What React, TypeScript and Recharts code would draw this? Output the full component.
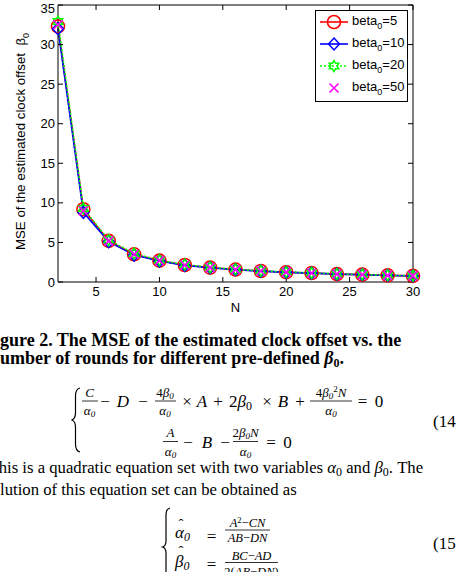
import React from 'react';
import { LineChart, Line, XAxis, YAxis, Legend } from 'recharts';

// values (MSE of beta_0 estimate vs. number of rounds N)
const N_ROUNDS = [2, 4, 6, 8, 10, 12, 14, 16, 18, 20, 22, 24, 26, 28, 30];
const MSE_BETA5 = [32.3, 9.2, 5.2, 3.5, 2.7, 2.15, 1.82, 1.57, 1.39, 1.24, 1.13, 1.0, 0.93, 0.84, 0.78];
const MSE_BETA10 = [32.0, 8.8, 5.1, 3.4, 2.65, 2.1, 1.8, 1.55, 1.37, 1.22, 1.12, 0.99, 0.92, 0.83, 0.77];
const MSE_BETA20 = [32.9, 9.3, 5.3, 3.6, 2.75, 2.2, 1.85, 1.6, 1.42, 1.26, 1.15, 1.02, 0.95, 0.86, 0.79];
const MSE_BETA50 = [32.5, 9.0, 5.2, 3.5, 2.7, 2.15, 1.82, 1.57, 1.39, 1.24, 1.13, 1.0, 0.93, 0.84, 0.78];

const X_TICKS = [5, 10, 15, 20, 25, 30];
const Y_TICKS = [0, 5, 10, 15, 20, 25, 30, 35];

const SERIES = [
  { key: 'b5', label: '5', color: '#ff0000', marker: 'circle', dash: undefined as string | undefined, line: true },
  { key: 'b10', label: '10', color: '#0000ff', marker: 'diamond', dash: undefined, line: true },
  { key: 'b20', label: '20', color: '#00ff00', marker: 'hexagram', dash: '2 2', line: true },
  { key: 'b50', label: '50', color: '#ff00ff', marker: 'x', dash: undefined, line: false },
];

const data = N_ROUNDS.map((n, i) => ({
  n,
  b5: MSE_BETA5[i],
  b10: MSE_BETA10[i],
  b20: MSE_BETA20[i],
  b50: MSE_BETA50[i],
}));

const SANS = '"Liberation Sans", Arial, Helvetica, sans-serif';
const SERIF = '"Liberation Serif", "Times New Roman", Times, serif';

function starPoints(cx: number, cy: number, r: number) {
  const pts: string[] = [];
  for (let k = 0; k < 12; k++) {
    const rr = k % 2 === 0 ? r : r / Math.sqrt(3);
    const a = (-90 + k * 30) * Math.PI / 180;
    pts.push(`${cx + rr * Math.cos(a)},${cy + rr * Math.sin(a)}`);
  }
  return pts.join(' ');
}

function Marker({ kind, cx, cy, color }: { kind: string; cx: number; cy: number; color: string }) {
  if (cx == null || cy == null) return null;
  switch (kind) {
    case 'circle':
      return <circle cx={cx} cy={cy} r={6.5} fill="none" stroke={color} strokeWidth={1.6} />;
    case 'diamond':
      return (
        <polygon
          points={`${cx},${cy - 6} ${cx + 5.5},${cy} ${cx},${cy + 6} ${cx - 5.5},${cy}`}
          fill="none" stroke={color} strokeWidth={1.5}
        />
      );
    case 'hexagram':
      return <polygon points={starPoints(cx, cy, 5.5)} fill="none" stroke={color} strokeWidth={1.5} />;
    default:
      return (
        <path
          d={`M${cx - 4.5},${cy - 4.5}L${cx + 4.5},${cy + 4.5}M${cx - 4.5},${cy + 4.5}L${cx + 4.5},${cy - 4.5}`}
          stroke={color} strokeWidth={1.6} fill="none"
        />
      );
  }
}

function LegendBox() {
  return (
    <div style={{
      position: 'relative', width: 93, height: 92, boxSizing: 'border-box',
      border: '1.5px solid #000', background: '#fff', fontFamily: SANS, fontSize: 13,
    }}>
      {SERIES.map((s, i) => (
        <div key={s.key} style={{ position: 'absolute', left: 3, top: 1 + i * 21.9, height: 20, display: 'flex', alignItems: 'center' }}>
          <svg width={30} height={20} style={{ display: 'block' }}>
            {s.line && <line x1={1} y1={10} x2={29} y2={10} stroke={s.color} strokeWidth={1.6} strokeDasharray={s.dash} />}
            <Marker kind={s.marker} cx={15} cy={10} color={s.color} />
          </svg>
          <span style={{ marginLeft: 3, color: '#000', whiteSpace: 'nowrap' }}>
            beta<sub style={{ fontSize: 9, verticalAlign: -4 }}>0</sub>={s.label}
          </span>
        </div>
      ))}
    </div>
  );
}

const YLabel = (props: any) => {
  const vb = props.viewBox || {};
  const cy = (vb.y ?? 5) + (vb.height ?? 277) / 2 - 2;
  return (
    <text
      transform={`translate(25,${cy}) rotate(-90)`}
      textAnchor="middle" fontSize={13.3} fontFamily={SANS} fill="#000"
    >
      MSE of the estimated clock offset{'\u00a0\u00a0'}β<tspan fontSize={9} dy={4}>0</tspan>
    </text>
  );
};

const XLabel = (props: any) => {
  const vb = props.viewBox || {};
  return (
    <text x={(vb.x ?? 58) + (vb.width ?? 355) / 2} y={(vb.y ?? 282) + 29.5}
      textAnchor="middle" fontSize={13} fontFamily={SANS} fill="#000">
      N
    </text>
  );
};

const tickStyle = { fontSize: 13, fontFamily: SANS, fill: '#000' };
const axisLine = { stroke: '#000', strokeWidth: 1 };
const noLabel = () => <g />;

// small helpers for the equation text under the figure
function Sub({ children, size = 9, dy = 3 }: { children: React.ReactNode; size?: number; dy?: number }) {
  return <><tspan fontSize={size} dy={dy}>{children}</tspan><tspan dy={-dy}>{'\u200b'}</tspan></>;
}

function Frac({ cx, bar, x1, x2, num, den, numY, denY, size = 13 }: {
  cx: number; bar: number; x1: number; x2: number; num: React.ReactNode; den: React.ReactNode;
  numY: number; denY: number; size?: number;
}) {
  return (
    <g>
      <text x={cx} y={numY} textAnchor="middle" fontSize={size} fontStyle="italic">{num}</text>
      <line x1={x1} x2={x2} y1={bar} y2={bar} stroke="#000" strokeWidth={0.8} />
      <text x={cx} y={denY} textAnchor="middle" fontSize={size} fontStyle="italic">{den}</text>
    </g>
  );
}

function Op({ x, y, children, italic = false, size = 17 }: { x: number; y: number; children: React.ReactNode; italic?: boolean; size?: number }) {
  return <text x={x} y={y} textAnchor="middle" fontSize={size} fontStyle={italic ? 'italic' : 'normal'}>{children}</text>;
}

const alpha0 = <>α<Sub size={9} dy={2}>0</Sub></>;

function PageText() {
  const r1 = 406.5;
  const r2 = 447.5;
  return (
    <svg width={456} height={572} style={{ position: 'absolute', left: 0, top: 0, pointerEvents: 'none' }}
      fontFamily={SERIF} fill="#000">
      <text x={-16} y={345.5} fontSize={18} fontWeight="bold">Figure 2. The MSE of the estimated clock offset vs. the</text>
      <text x={-10} y={363.5} fontSize={18} fontWeight="bold">
        number of rounds for different pre-defined <tspan fontStyle="italic">β</tspan><Sub size={12} dy={3}>0</Sub>.
      </text>

      {/* equation (14) */}
      <path d="M80,388 Q75.5,389 75.5,396 L75.5,413 Q75.5,419 71.5,420 Q75.5,421 75.5,427 L75.5,444 Q75.5,451 80,452"
        fill="none" stroke="#000" strokeWidth={1.2} />
      <Frac cx={89.5} bar={401} x1={82} x2={98} numY={397} denY={414.5} num="C" den={alpha0} />
      <Op x={105} y={r1}>−</Op>
      <Op x={123} y={r1} italic>D</Op>
      <Op x={143} y={r1}>−</Op>
      <Frac cx={165} bar={401} x1={155} x2={176} numY={397} denY={414.5}
        num={<><tspan fontStyle="normal">4</tspan>β<Sub size={9} dy={2}>0</Sub></>} den={alpha0} />
      <Op x={187} y={r1}>×</Op>
      <Op x={202} y={r1} italic>A</Op>
      <Op x={218} y={r1}>+</Op>
      <text x={229} y={r1} fontSize={17}>2<tspan fontStyle="italic">β</tspan><Sub size={12} dy={3}>0</Sub></text>
      <Op x={267} y={r1}>×</Op>
      <Op x={283} y={r1} italic>B</Op>
      <Op x={300} y={r1}>+</Op>
      <Frac cx={331} bar={401} x1={310} x2={352} numY={397} denY={414.5}
        num={<><tspan fontStyle="normal">4</tspan>β<tspan fontSize={9} dy={2}>0</tspan><tspan fontSize={9} fontStyle="normal" dy={-7}>2</tspan><tspan dy={5}>N</tspan></>}
        den={alpha0} />
      <Op x={362.5} y={r1}>=</Op>
      <Op x={379} y={r1}>0</Op>
      <text x={433} y={427} fontSize={17}>(14)</text>

      <Frac cx={170.5} bar={441.5} x1={163} x2={178} numY={437} denY={455.5} num="A" den={alpha0} />
      <Op x={188} y={r2}>−</Op>
      <Op x={207} y={r2} italic>B</Op>
      <Op x={225} y={r2}>−</Op>
      <Frac cx={245.5} bar={441.5} x1={233} x2={258} numY={437} denY={455.5}
        num={<><tspan fontStyle="normal">2</tspan>β<tspan fontSize={9} dy={2}>0</tspan><tspan dy={-2}>N</tspan></>}
        den={alpha0} />
      <Op x={271} y={r2}>=</Op>
      <Op x={287.5} y={r2}>0</Op>

      {/* paragraph */}
      <text x={-11.5} y={473.3} fontSize={16.7}>
        This is a quadratic equation set with two variables <tspan fontStyle="italic">α</tspan><Sub size={12} dy={3}>0</Sub> and <tspan fontStyle="italic">β</tspan><Sub size={12} dy={3}>0</Sub>. The
      </text>
      <text x={-14.8} y={495} fontSize={16.7}>solution of this equation set can be obtained as</text>

      {/* equation (15) */}
      <path d="M170,508 Q166,509 166,515 L166,541 Q166,546 162.5,547 Q166,548 166,553 L166,580 Q166,586 170,587"
        fill="none" stroke="#000" strokeWidth={1.2} />
      <text x={181} y={529} textAnchor="middle" fontSize={15}>ˆ</text>
      <text x={175} y={538} fontSize={17} fontStyle="italic">α<Sub size={12} dy={3}>0</Sub></text>
      <Op x={211.5} y={541.5}>=</Op>
      <Frac cx={247.5} bar={530} x1={225} x2={270} numY={526.5} denY={542} size={12.5}
        num={<>A<tspan fontSize={8.5} fontStyle="normal" dy={-4}>2</tspan><tspan dy={4} fontStyle="normal">−</tspan>CN</>}
        den={<>AB<tspan fontStyle="normal">−</tspan>DN</>} />
      <text x={181} y={556} textAnchor="middle" fontSize={15}>ˆ</text>
      <text x={175} y={566.5} fontSize={17} fontStyle="italic">β<Sub size={12} dy={3}>0</Sub></text>
      <Op x={211.5} y={569.5}>=</Op>
      <Frac cx={251.5} bar={562.5} x1={225} x2={278} numY={559.5} denY={576} size={12.5}
        num={<>BC<tspan fontStyle="normal">−</tspan>AD</>}
        den={<><tspan fontStyle="normal">2(</tspan>AB<tspan fontStyle="normal">−</tspan>DN<tspan fontStyle="normal">)</tspan></>} />
      <text x={433} y={549} fontSize={17}>(15)</text>
    </svg>
  );
}

export default function App() {
  return (
    <div style={{ position: 'fixed', left: 0, top: 0, width: 456, height: 572, overflow: 'hidden', background: '#fff' }}>
      <div style={{ position: 'absolute', left: 0, top: 0 }}>
        <LineChart width={456} height={320} data={data} margin={{ top: 4, right: 42, left: 0, bottom: 0 }}>
          <XAxis
            dataKey="n" type="number" domain={[2, 30]} ticks={X_TICKS}
            height={38} tickSize={-5} tickMargin={10}
            axisLine={axisLine} tickLine={{ stroke: '#000' }} tick={tickStyle}
            label={<XLabel />}
          />
          <XAxis
            xAxisId="top" orientation="top" dataKey="n" type="number" domain={[2, 30]} ticks={X_TICKS}
            height={1} tickSize={-5} axisLine={axisLine} tickLine={{ stroke: '#000' }}
            tick={noLabel}
          />
          <YAxis
            type="number" domain={[0, 35]} ticks={Y_TICKS} width={58}
            tickSize={-5} tickMargin={8}
            axisLine={axisLine} tickLine={{ stroke: '#000' }} tick={tickStyle}
            label={<YLabel />}
          />
          <YAxis
            yAxisId="right" orientation="right" type="number" domain={[0, 35]} ticks={Y_TICKS} width={1}
            tickSize={-5} axisLine={axisLine} tickLine={{ stroke: '#000' }}
            tick={noLabel}
          />
          <Legend
            layout="horizontal" verticalAlign="middle" align="center"
            wrapperStyle={{ left: 315, top: 10, width: 93, height: 92 }}
            content={() => <LegendBox />}
          />
          {/* invisible series that keeps the top/right frame axes alive */}
          <Line
            xAxisId="top" yAxisId="right" dataKey="b5" stroke="none" dot={false} activeDot={false}
            legendType="none" isAnimationActive={false}
          />
          {SERIES.map(s => (
            <Line
              key={s.key}
              type="linear"
              dataKey={s.key}
              stroke={s.line ? s.color : 'none'}
              strokeWidth={1.6}
              strokeDasharray={s.dash}
              dot={(p: any) => <Marker key={`${s.key}-${p.index}`} kind={s.marker} cx={p.cx} cy={p.cy} color={s.color} />}
              activeDot={false}
              isAnimationActive={false}
            />
          ))}
        </LineChart>
      </div>
      <PageText />
    </div>
  );
}
